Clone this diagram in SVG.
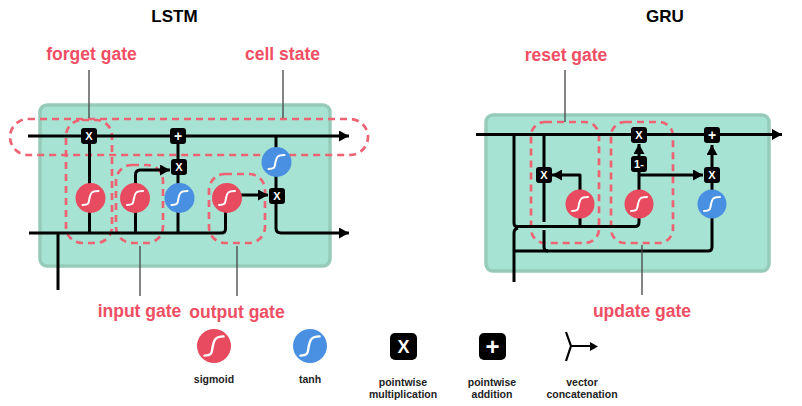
<svg xmlns="http://www.w3.org/2000/svg" width="802" height="406" viewBox="0 0 802 406">
<style>
.box{fill:#a6e3d2;stroke:#96cbb9;stroke-width:3.500}
.w{fill:none;stroke:#000;stroke-width:3;stroke-linejoin:round}
.lead{fill:none;stroke:#444;stroke-width:1.300}
.dash{fill:none;stroke:#ee6374;stroke-width:2.700;stroke-dasharray:7 5}
.red{fill:#e84a5f}.blue{fill:#4a90e2}
.s{fill:none;stroke:#fff;stroke-width:2;stroke-linecap:round}
.op{fill:#000}
.opt{fill:#fff;font:bold 11px "Liberation Sans",Arial,sans-serif;text-anchor:middle}
.gate{fill:#f04e63;font:bold 17.500px "Liberation Sans",Arial,sans-serif;text-anchor:middle}
.title{fill:#000;font:bold 17px "Liberation Sans",Arial,sans-serif;text-anchor:middle}
.leg{fill:#222;font:bold 10.500px "Liberation Sans",Arial,sans-serif;text-anchor:middle}
</style>
<defs>
<marker id="a" markerUnits="userSpaceOnUse" markerWidth="11" markerHeight="11" refX="10" refY="5.500" orient="auto"><path d="M0 0L10 5.500L0 11z" fill="#000"/></marker>
<g id="sc"><path class="s" d="M-8 7C-1 7 -2 5 -1 0C0 -5 1 -7 8 -7"/></g>
</defs>
<text class="title" x="174.500" y="22">LSTM</text>
<text class="title" x="665" y="22">GRU</text>
<rect class="box" x="40" y="105" width="290" height="161" rx="7"/>
<rect class="box" x="486" y="115" width="283" height="156" rx="7"/>
<g id="gate-outlines">
<rect class="dash" x="10" y="119" width="358" height="36" rx="18"/>
<rect class="dash" x="66" y="120" width="46" height="123" rx="16"/>
<rect class="dash" x="116" y="165" width="47" height="78" rx="16"/>
<rect class="dash" x="209" y="174" width="56" height="69" rx="16"/>
<rect class="dash" x="531" y="122" width="68" height="121" rx="14"/>
<rect class="dash" x="611" y="122" width="62" height="121" rx="14"/>
</g>
<g id="connectors">
<path class="w" d="M28 136H349" marker-end="url(#a)"/>
<path class="w" d="M29 233H221Q225.500 233 225.500 229V210"/>
<path class="w" d="M58 233V290"/>
<path class="w" d="M89.500 136V233"/>
<path class="w" d="M135.500 233V175Q135.500 170 140 170H170" marker-end="url(#a)"/>
<path class="w" d="M178 136V233"/>
<path class="w" d="M241 195H268" marker-end="url(#a)"/>
<path class="w" d="M276 136V228Q276 233 281 233H349" marker-end="url(#a)"/>
<path class="w" d="M476 134.500H782" marker-end="url(#a)"/>
<path class="w" d="M514 134.500V223Q514 226.500 517 226.500H635Q639 226.500 639 222V163"/>
<path class="w" d="M518 228Q514 229 514 233V282"/>
<path class="w" d="M514 251H708Q712 251 712 247V145" marker-end="url(#a)"/>
<path class="w" d="M544 134.500V222M544 230V247Q544 251 548 251"/>
<path class="w" d="M580 226.500V175H552" marker-end="url(#a)"/>
<path class="w" d="M639 175H703" marker-end="url(#a)"/>
<path class="w" d="M639 156V144" marker-end="url(#a)"/>
</g>
<g id="lstm-ops">
<g id="l-x1"><rect class="op" x="81" y="128" width="16" height="16" rx="3"/><text class="opt" x="89" y="140">X</text></g>
<g id="l-plus"><rect class="op" x="170" y="128" width="16" height="16" rx="3"/><text class="opt" style="font-size:14px" x="178" y="141">+</text></g>
<g id="l-x2"><rect class="op" x="171" y="159" width="16" height="16" rx="3"/><text class="opt" x="179" y="171">X</text></g>
<g id="l-x3"><rect class="op" x="269" y="188" width="16" height="16" rx="3"/><text class="opt" x="277" y="200">X</text></g>
<g id="l-s1"><circle class="red" cx="90.500" cy="198" r="15"/><use href="#sc" x="90.500" y="198"/></g>
<g id="l-s2"><circle class="red" cx="135" cy="198" r="15"/><use href="#sc" x="135" y="198"/></g>
<g id="l-t1"><circle class="blue" cx="179.500" cy="198" r="15"/><use href="#sc" x="179.500" y="198"/></g>
<g id="l-s3"><circle class="red" cx="227" cy="198" r="15"/><use href="#sc" x="227" y="198"/></g>
<g id="l-t2"><circle class="blue" cx="276.500" cy="162" r="15"/><use href="#sc" x="276.500" y="162"/></g>
</g>
<g id="gru-ops">
<g id="g-x1"><rect class="op" x="536" y="167" width="16" height="16" rx="3"/><text class="opt" x="544" y="179">X</text></g>
<g id="g-x2"><rect class="op" x="631" y="127" width="16" height="16" rx="3"/><text class="opt" x="639" y="139">X</text></g>
<g id="g-1"><rect class="op" x="631" y="156" width="16" height="16" rx="3"/><text class="opt" x="639" y="168">1-</text></g>
<g id="g-plus"><rect class="op" x="704" y="127" width="16" height="16" rx="3"/><text class="opt" style="font-size:14px" x="712" y="140">+</text></g>
<g id="g-x3"><rect class="op" x="704" y="167" width="16" height="16" rx="3"/><text class="opt" x="712" y="179">X</text></g>
<g id="g-s1"><circle class="red" cx="580" cy="204" r="14.500"/><use href="#sc" x="580" y="204"/></g>
<g id="g-s2"><circle class="red" cx="639" cy="204" r="14.500"/><use href="#sc" x="639" y="204"/></g>
<g id="g-t"><circle class="blue" cx="712" cy="204" r="14.500"/><use href="#sc" x="712" y="204"/></g>
</g>
<g id="gates">
<path class="lead" d="M89 70V118M283 70V118M140 246V296M237 246V296M565 70V122M642 245V295"/>
<text class="gate" x="91.500" y="60">forget gate</text>
<text class="gate" x="282.500" y="60">cell state</text>
<text class="gate" x="139.500" y="317">input gate</text>
<text class="gate" x="237" y="318">output gate</text>
<text class="gate" x="566" y="61">reset gate</text>
<text class="gate" x="642" y="317">update gate</text>
</g>
<g id="legend">
<g id="lg-sigmoid"><circle class="red" cx="214" cy="346" r="17"/><path class="s" transform="translate(214 346) scale(1.200)" d="M-8 8C-1 8 -2 5 -1 0C0 -5 1 -8 8 -8"/><text class="leg" x="214" y="383">sigmoid</text></g>
<g id="lg-tanh"><circle class="blue" cx="310" cy="346" r="17"/><path class="s" transform="translate(310 346) scale(1.200)" d="M-8 8C-1 8 -2 5 -1 0C0 -5 1 -8 8 -8"/><text class="leg" x="310" y="383">tanh</text></g>
<g id="lg-x"><rect class="op" x="390" y="333" width="27" height="27" rx="5"/><text class="opt" style="font-size:18px" x="403.500" y="353">X</text><text class="leg" x="403" y="385.500">pointwise</text><text class="leg" x="403" y="398">multiplication</text></g>
<g id="lg-plus"><rect class="op" x="479" y="333" width="27" height="27" rx="5"/><text class="opt" style="font-size:24px" x="492.500" y="354.500">+</text><text class="leg" x="492" y="385.500">pointwise</text><text class="leg" x="492" y="398">addition</text></g>
<g id="lg-concat"><path class="w" style="stroke-width:2.200" d="M566 332L571 346L566 361M571 346H592"/><path d="M590 342L598 346.500L590 351z"/><text class="leg" x="582" y="385.500">vector</text><text class="leg" x="582" y="398">concatenation</text></g>
</g>
</svg>
